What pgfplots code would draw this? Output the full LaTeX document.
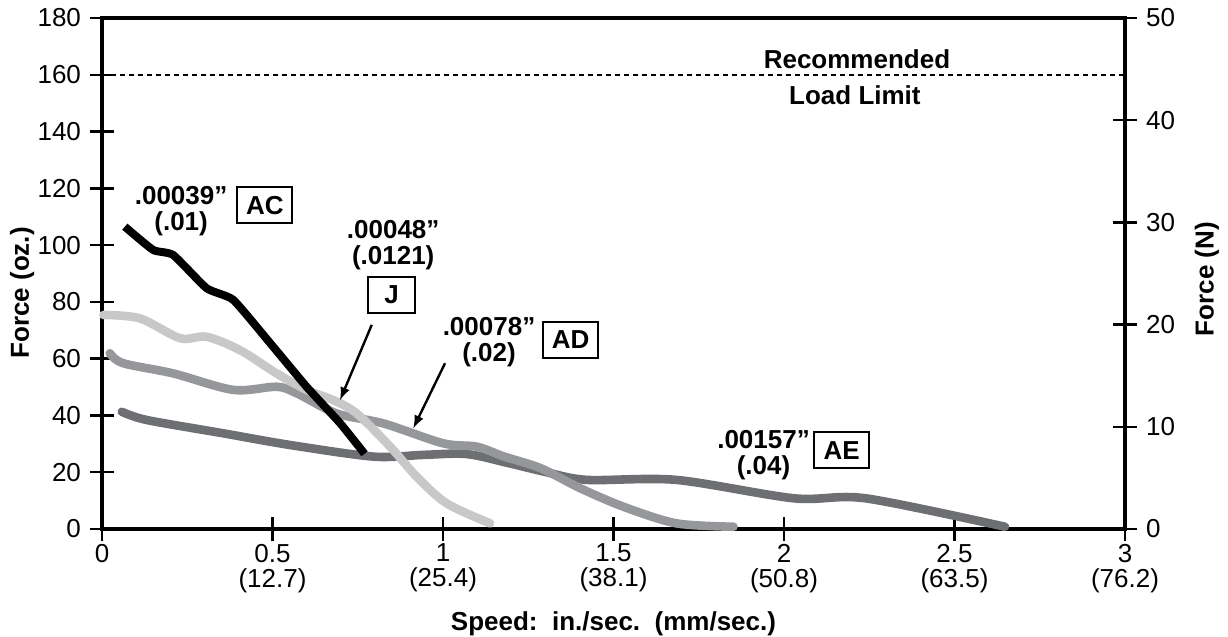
\documentclass[border=0pt]{standalone}
\usepackage{fontspec}
\setmainfont{Liberation Sans}
\usepackage{pgfplots}
\pgfplotsset{compat=1.18}

\definecolor{cJ}{RGB}{200,200,200}
\definecolor{cAD}{RGB}{150,151,155}
\definecolor{cAE}{RGB}{110,111,114}

\begin{document}
\fontsize{13}{15}\selectfont
\begin{tikzpicture}
\path[use as bounding box] (-51pt,-54pt) rectangle (563pt,264.5pt);
\begin{axis}[
  at={(0,0)}, anchor=south west,
  scale only axis, width=511.5pt, height=255.5pt,
  xmin=0, xmax=3, ymin=0, ymax=180,
  axis line style={line width=2pt},
  xtick={0,0.5,1,1.5,2,2.5,3},
  xticklabels={0,{0.5\\(12.7)},{1\\(25.4)},{1.5\\(38.1)},{2\\(50.8)},{2.5\\(63.5)},{3\\(76.2)}},
  xticklabel style={align=center, font=\fontsize{13}{12.5}\selectfont, yshift=3pt},
  yticklabel style={font=\fontsize{13}{15}\selectfont},
  ytick={0,20,...,180},
  xtick pos=left, ytick pos=left,
  tick align=center, major tick length=12pt,
  tick style={line width=1.2pt, black},
  /pgf/number format/assume math mode=true,
  xlabel={\bfseries Speed:~~in./sec.~~(mm/sec.)},
  xlabel style={at={(axis description cs:0.5,-0.185)}, anchor=center},
  ylabel={\bfseries Force (oz.)},
  ylabel style={at={(axis description cs:-0.078,0.462)}, anchor=center},
  clip=false,
]
\addplot[black, line width=0.8pt, dash pattern=on 2.5pt off 2pt] coordinates {(0,160) (3,160)};

\addplot[cAE, line width=4.3pt, line cap=round, smooth, tension=0.5] coordinates {
  (0.058,41.3) (0.131,38.4) (0.356,33.7) (0.551,29.6) (0.796,25.5) (0.942,26.1)
  (1.07,26.4) (1.196,23.1) (1.297,20.2) (1.422,17.3) (1.684,17.3) (2.03,10.8)
  (2.24,10.8) (2.648,0.8)};
\addplot[cAD, line width=4.3pt, line cap=round, smooth, tension=0.5] coordinates {
  (0.023,61.9) (0.062,58.4) (0.209,54.8) (0.385,49) (0.512,50.1) (0.571,47.8)
  (0.688,40.7) (0.825,37.2) (1.0,30.2) (1.099,29) (1.18,25.5) (1.287,21.4)
  (1.40,14.5) (1.528,7.9) (1.684,2.0) (1.852,0.8)};
\addplot[cJ, line width=4.3pt, line cap=round, smooth, tension=0.5] coordinates {
  (0.004,75.4) (0.111,74.2) (0.229,67.2) (0.307,67.7) (0.405,63) (0.512,54.8)
  (0.60,49) (0.678,45.4) (0.747,40.7) (0.845,29) (0.923,18.4) (1.011,9.0) (1.138,2.0)};
\addplot[black, line width=4pt, smooth, tension=0.3] coordinates {
  (0.067,106.5) (0.15,98.3) (0.209,96.5) (0.307,84.8) (0.385,80.7) (0.493,65.5)
  (0.60,50.1) (0.698,37.3) (0.77,26.5)};

\begin{scope}[every node/.style={font=\fontsize{13}{13}\selectfont\bfseries}]
\node[align=center, inner sep=0pt] at (axis cs:0.232,112.1) {.00039”\\(.01)};
\node[draw, line width=1pt, minimum width=27.5pt, minimum height=18pt] at (axis cs:0.478,114.1) {AC};

\node[align=center, inner sep=0pt] at (axis cs:0.854,100.1) {.00048”\\(.0121)};
\node[draw, line width=1pt, minimum width=23.5pt, minimum height=18pt] at (axis cs:0.849,82.4) {J};

\node[align=center, inner sep=0pt] at (axis cs:1.135,65.7) {.00078”\\(.02)};
\node[draw, line width=1pt, minimum width=27pt, minimum height=18pt] at (axis cs:1.374,66.6) {AD};

\node[align=center, inner sep=0pt] at (axis cs:1.940,25.9) {.00157”\\(.04)};
\node[draw, line width=1pt, minimum width=27.5pt, minimum height=18pt] at (axis cs:2.169,27.8) {AE};

\node[inner sep=0pt] at (axis cs:2.214,165.5) {Recommended};
\node[inner sep=0pt] at (axis cs:2.208,152.9) {Load Limit};
\end{scope}

\draw[-latex, line width=1.2pt] (axis cs:0.791,71.9) -- (axis cs:0.698,45.4);
\draw[-latex, line width=1.2pt] (axis cs:1.006,58.4) -- (axis cs:0.913,35.5);
\end{axis}
\begin{axis}[
  at={(0,0)}, anchor=south west,
  scale only axis, width=511.5pt, height=255.5pt,
  xmin=0, xmax=3, ymin=0, ymax=50,
  axis x line=none, axis y line*=right,
  axis line style={line width=2pt, -},
  ytick={0,10,...,50},
  yticklabel style={font=\fontsize{13}{15}\selectfont},
  tick align=center, major tick length=12pt,
  tick style={line width=1.2pt, black},
  /pgf/number format/assume math mode=true,
  ylabel={\bfseries Force (N)},
  ylabel style={at={(axis description cs:1.080,0.489)}, anchor=center},
]
\end{axis}
\end{tikzpicture}
\end{document}
